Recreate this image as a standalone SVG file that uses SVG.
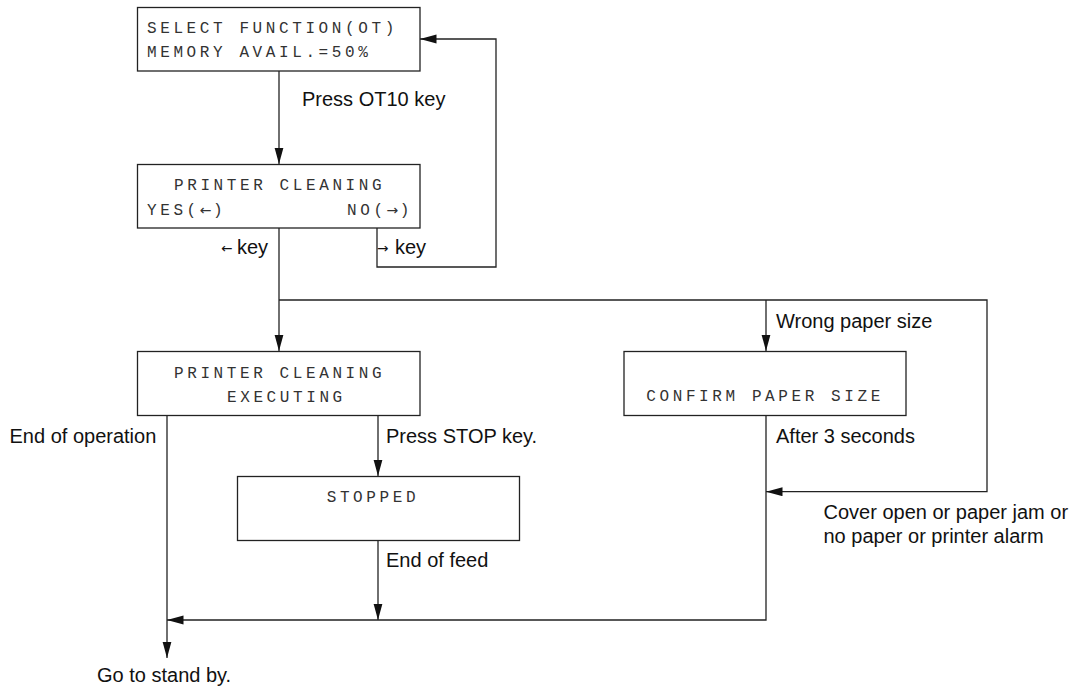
<svg xmlns="http://www.w3.org/2000/svg" width="1083" height="691" viewBox="0 0 1083 691">
<style>
.box{fill:#fff;stroke:#222;stroke-width:1.3}
.mono{font-family:"Liberation Mono","DejaVu Sans Mono",monospace;font-size:16px;letter-spacing:3.6px;fill:#333}
.arr{font-family:"DejaVu Sans",sans-serif;font-size:14px;letter-spacing:1.5px}
.lbl{font-family:"Liberation Sans",Arial,sans-serif;font-size:20px;fill:#111}
.sarr{font-family:"DejaVu Sans",sans-serif;font-size:13.5px}
.ln{fill:none;stroke:#222;stroke-width:1.3}
</style>
<defs>
<marker id="ah" markerUnits="userSpaceOnUse" markerWidth="17" markerHeight="10" refX="16.5" refY="4.5" orient="auto">
<path d="M0,0 L16.5,4.5 L0,9 z" fill="#111"/>
</marker>
</defs>
<rect width="1083" height="691" fill="#fff"/>
<g id="connectors">
<path class="ln" d="M279,71 V164" marker-end="url(#ah)"/>
<path class="ln" d="M279,228 V351" marker-end="url(#ah)"/>
<path class="ln" d="M279,300 H987 V491.7 H766" marker-end="url(#ah)"/>
<path class="ln" d="M766,300 V351" marker-end="url(#ah)"/>
<path class="ln" d="M377,228 V267 H496 V39 H420" marker-end="url(#ah)"/>
<path class="ln" d="M167,416 V658" marker-end="url(#ah)"/>
<path class="ln" d="M378,416 V476" marker-end="url(#ah)"/>
<path class="ln" d="M378,540 V620" marker-end="url(#ah)"/>
<path class="ln" d="M766,415 V620 H167" marker-end="url(#ah)"/>
</g>
<g id="labels">
<text class="lbl" x="302" y="106">Press OT10 key</text>
<text class="lbl" x="221" y="254"><tspan class="sarr" dy="-1">←</tspan><tspan x="237" dy="1">key</tspan></text>
<text class="lbl" x="377" y="254"><tspan class="sarr" dy="-1">→</tspan><tspan x="395" dy="1">key</tspan></text>
<text class="lbl" x="9.5" y="442.7">End of operation</text>
<text class="lbl" x="386" y="442.7">Press STOP key.</text>
<text class="lbl" x="776" y="327.7">Wrong paper size</text>
<text class="lbl" x="776" y="442.7">After 3 seconds</text>
<text class="lbl" x="823.5" y="519.3">Cover open or paper jam or</text>
<text class="lbl" x="823.5" y="543.3">no paper or printer alarm</text>
<text class="lbl" x="386" y="567.3">End of feed</text>
<text class="lbl" x="97" y="682.3">Go to stand by.</text>
</g>
<g id="node-select">
<rect class="box" x="137.5" y="7.5" width="282.5" height="63.5"/>
<text class="mono" x="147" y="33.3">SELECT FUNCTION(OT)</text>
<text class="mono" x="147" y="57.3">MEMORY AVAIL.=50%</text>
</g>
<g id="node-printer-cleaning">
<rect class="box" x="137.5" y="164.5" width="282.5" height="63.5"/>
<text class="mono" x="174" y="190">PRINTER CLEANING</text>
<text class="mono" x="147" y="215">YES(<tspan class="arr">←</tspan>)</text>
<text class="mono" x="347" y="215">NO(<tspan class="arr">→</tspan>)</text>
</g>
<g id="node-executing">
<rect class="box" x="137.5" y="351.5" width="282.5" height="64"/>
<text class="mono" x="174" y="378.3">PRINTER CLEANING</text>
<text class="mono" x="227" y="402.3">EXECUTING</text>
</g>
<g id="node-stopped">
<rect class="box" x="237.5" y="476.5" width="282" height="64"/>
<text class="mono" x="326.7" y="502.3">STOPPED</text>
</g>
<g id="node-confirm">
<rect class="box" x="624" y="351.5" width="282" height="64"/>
<text class="mono" x="646.3" y="400.7">CONFIRM PAPER SIZE</text>
</g>
</svg>
